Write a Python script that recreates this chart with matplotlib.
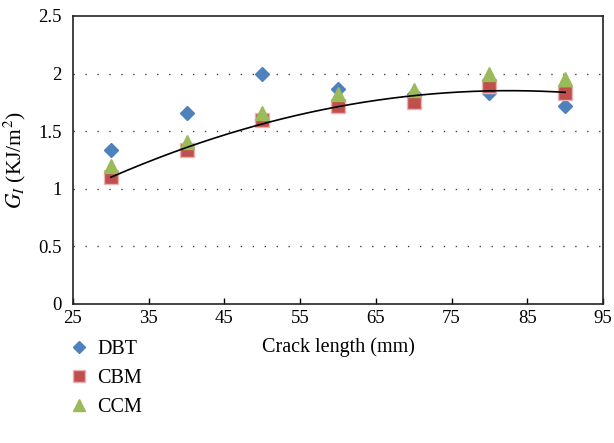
import numpy as np
import matplotlib
matplotlib.use("Agg")
import matplotlib.pyplot as plt

plt.rcParams['font.family'] = ['Liberation Serif', 'DejaVu Serif']
plt.rcParams['mathtext.fontset'] = 'stix'

crack_length = [30, 40, 50, 60, 70, 80, 90]
dbt = [1.34, 1.66, 2.00, 1.87, 1.82, 1.83, 1.72]
cbm = [1.10, 1.34, 1.60, 1.72, 1.75, 1.89, 1.83]
ccm = [1.20, 1.41, 1.66, 1.82, 1.86, 2.00, 1.95]
x_ticks = [25, 35, 45, 55, 65, 75, 85, 95]
y_ticks = [0, 0.5, 1, 1.5, 2, 2.5]

fig = plt.figure(figsize=(6.14, 4.43), dpi=100)
ax = fig.add_axes([73/614, 1-304/443, (603-73)/614, (304-16)/443])

ax.plot(crack_length, dbt, linestyle='none', marker='D', markersize=7.5,
        color='#4F81BD', markeredgecolor='#4F81BD', label='DBT', zorder=3)
ax.plot(crack_length, cbm, linestyle='none', marker='s', markersize=10,
        color='#C0504D', markeredgecolor='#E8B4B3', markeredgewidth=1.0, label='CBM', zorder=4)
ax.plot(crack_length, ccm, linestyle='none', marker='^', markersize=10.5,
        color='#9BBB59', markeredgecolor='#9BBB59', label='CCM', zorder=5)

coef = np.polyfit(crack_length, cbm, 2)
xs = np.linspace(min(crack_length), max(crack_length), 200)
ax.plot(xs, np.polyval(coef, xs), color='black', linewidth=1.2, zorder=6)

ax.set_xlim(25, 95)
ax.set_ylim(0, 2.5)
ax.set_xticks(x_ticks)
ax.set_xticklabels([str(v) for v in x_ticks])
ax.set_yticks(y_ticks)
ax.set_yticklabels(['0', '0.5', '1', '1.5', '2', '2.5'])
for v in [0.5, 1, 1.5, 2]:
    ax.axhline(v, color='#444444', linestyle=(0, (1, 7.6)), linewidth=1.0, zorder=1)

ax.tick_params(axis='x', direction='in', length=4, width=1, labelsize=13.5, pad=4)
ax.tick_params(axis='y', length=0, labelsize=13.5, pad=8)
for s in ax.spines.values():
    s.set_linewidth(1.2)
    s.set_color('#222222')

ax.set_xlabel('Crack length (mm)', fontsize=14.5, labelpad=8)
ax.set_ylabel(r'$G_I$ (KJ/m$^2$)', fontsize=15.5)
ax.yaxis.set_label_coords(-0.084, 0.5)

fig.legend(loc='upper left', bbox_to_anchor=(0.112, 0.232), frameon=False,
           fontsize=14.5, labelspacing=0.48, handletextpad=0.4, handlelength=1.0,
           borderaxespad=0, borderpad=0, markerscale=0.8)

fig.savefig('out.png', dpi=100)
